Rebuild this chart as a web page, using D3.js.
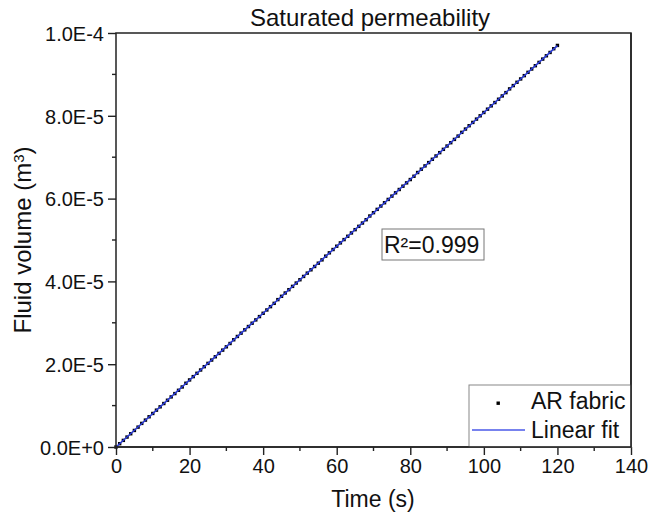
<!DOCTYPE html>
<html><head><meta charset="utf-8">
<script src="https://cdn.jsdelivr.net/npm/d3@7"></script>
<style>body{margin:0;background:#fff}svg{display:block}text{font-family:"Liberation Sans",Arial,sans-serif;fill:#111}</style>
</head><body><svg id="c" width="648" height="519"></svg>
<script>
const timeS = [0,1,2,3,4,5,6,7,8,9,10,11,12,13,14,15,16,17,18,19,20,21,22,23,24,25,26,27,28,29,30,31,32,33,34,35,36,37,38,39,40,41,42,43,44,45,46,47,48,49,50,51,52,53,54,55,56,57,58,59,60,61,62,63,64,65,66,67,68,69,70,71,72,73,74,75,76,77,78,79,80,81,82,83,84,85,86,87,88,89,90,91,92,93,94,95,96,97,98,99,100,101,102,103,104,105,106,107,108,109,110,111,112,113,114,115,116,117,118,119,120];
// fluid volume in 1e-6 m^3
const volumeMicro = [0.0,0.8,1.6,2.4,3.2,4.0,4.8,5.7,6.5,7.3,8.1,8.9,9.7,10.5,11.3,12.1,12.9,13.7,14.5,15.4,16.2,17.0,17.8,18.6,19.4,20.2,21.0,21.8,22.6,23.4,24.2,25.0,25.9,26.7,27.5,28.3,29.1,29.9,30.7,31.5,32.3,33.1,33.9,34.7,35.6,36.4,37.2,38.0,38.8,39.6,40.4,41.2,42.0,42.8,43.6,44.4,45.2,46.1,46.9,47.7,48.5,49.3,50.1,50.9,51.7,52.5,53.3,54.1,54.9,55.8,56.6,57.4,58.2,59.0,59.8,60.6,61.4,62.2,63.0,63.8,64.6,65.4,66.3,67.1,67.9,68.7,69.5,70.3,71.1,71.9,72.7,73.5,74.3,75.1,76.0,76.8,77.6,78.4,79.2,80.0,80.8,81.6,82.4,83.2,84.0,84.8,85.6,86.5,87.3,88.1,88.9,89.7,90.5,91.3,92.1,92.9,93.7,94.5,95.3,96.2,97.0];
const fitSlope = 0.808e-6;   // m^3 per s
const fitIntercept = 0.0;
const fitRange = [0, 120];
const xTicks = [0,20,40,60,80,100,120,140];
const xMinor = [10,30,50,70,90,110,130];
const yTicks = [0,2e-5,4e-5,6e-5,8e-5,1e-4];
const yTickLabels = ["0.0E+0","2.0E-5","4.0E-5","6.0E-5","8.0E-5","1.0E-4"];
const yMinor = [1e-5,3e-5,5e-5,7e-5,9e-5];
const title = "Saturated permeability";
const legendLabels = ["AR fabric","Linear fit"];
const r2Label = "R²=0.999";

const svg = d3.select("#c");
const L=116,R=631,T=33,B=447;
const x = d3.scaleLinear().domain([0,140]).range([L,R]);
const y = d3.scaleLinear().domain([0,1e-4]).range([B,T]);
const axisColor="#222";

// data
const pts = timeS.map((t,i)=>({t, v: volumeMicro[i]*1e-6}));
const gData = svg.append("g");
gData.selectAll("rect").data(pts).enter().append("rect")
  .attr("x",d=>x(d.t)-1.7).attr("y",d=>y(d.v)-1.7).attr("width",3.4).attr("height",3.4).attr("fill","#000");
gData.append("line")
  .attr("x1",x(fitRange[0])).attr("y1",y(fitIntercept+fitSlope*fitRange[0]))
  .attr("x2",x(fitRange[1])).attr("y2",y(fitIntercept+fitSlope*fitRange[1]))
  .attr("stroke","#2b3bd6").attr("stroke-width",1.6);

// axes
const xAxis = d3.axisBottom(x).tickValues(xTicks).tickSize(8).tickSizeOuter(0).tickPadding(4).tickFormat(d3.format("d"));
const gx = svg.append("g").attr("transform",`translate(0,${B})`).call(xAxis);
const yAxis = d3.axisLeft(y).tickValues(yTicks).tickSize(8).tickSizeOuter(0).tickPadding(4).tickFormat((d,i)=>yTickLabels[i]);
const gy = svg.append("g").attr("transform",`translate(${L},0)`).call(yAxis);
[gx,gy].forEach(g=>{
  g.select(".domain").remove();
  g.selectAll(".tick line").attr("stroke",axisColor).attr("stroke-width",1.4);
  g.selectAll(".tick text").style("font-size","20px").attr("fill","#111");
});
gx.selectAll(".tick text").attr("y",26).attr("dy",0);
gy.selectAll(".tick text").attr("x",-12).attr("dy","0.36em");
svg.append("g").selectAll("line").data(xMinor).enter().append("line")
  .attr("x1",d=>x(d)).attr("x2",d=>x(d)).attr("y1",B).attr("y2",B+4).attr("stroke",axisColor).attr("stroke-width",1.4);
svg.append("g").selectAll("line").data(yMinor).enter().append("line")
  .attr("y1",d=>y(d)).attr("y2",d=>y(d)).attr("x1",L).attr("x2",L-4).attr("stroke",axisColor).attr("stroke-width",1.4);

// frame
svg.append("rect").attr("x",L).attr("y",T).attr("width",R-L).attr("height",B-T)
  .attr("fill","none").attr("stroke",axisColor).attr("stroke-width",1.5);

// titles
svg.append("text").attr("x",370).attr("y",26).attr("text-anchor","middle").style("font-size","24px").text(title);
svg.append("text").attr("x",373).attr("y",507).attr("text-anchor","middle").style("font-size","23px").text("Time (s)");
const yt = svg.append("text").attr("transform",`translate(31,${(T+B)/2}) rotate(-90)`).attr("text-anchor","middle").style("font-size","24px");
yt.append("tspan").text("Fluid volume (m");
yt.append("tspan").attr("dy","-0.45em").style("font-size","15px").text("3");
yt.append("tspan").attr("dy","0.3em").text(")");

// R2 box
svg.append("rect").attr("x",382).attr("y",229).attr("width",102).attr("height",31).attr("fill","#fff").attr("stroke","#777").attr("stroke-width",1);
svg.append("text").attr("x",384).attr("y",253).style("font-size","23px").text(r2Label);

// legend
const lg = svg.append("g");
lg.append("rect").attr("x",469).attr("y",385).attr("width",R-469).attr("height",B-385).attr("fill","#fff").attr("stroke","#888").attr("stroke-width",1);
lg.append("rect").attr("x",496.5).attr("y",401.5).attr("width",3.4).attr("height",3.4).attr("fill","#000");
lg.append("line").attr("x1",472).attr("x2",525).attr("y1",430).attr("y2",430).attr("stroke","#4a58e8").attr("stroke-width",1.6);
lg.append("text").attr("x",531).attr("y",409).style("font-size","23px").text(legendLabels[0]);
lg.append("text").attr("x",531).attr("y",438).style("font-size","23px").text(legendLabels[1]);
// redraw frame edges over legend
svg.append("line").attr("x1",R).attr("x2",R).attr("y1",T).attr("y2",B).attr("stroke",axisColor).attr("stroke-width",1.5);
svg.append("line").attr("x1",L).attr("x2",R).attr("y1",B).attr("y2",B).attr("stroke",axisColor).attr("stroke-width",1.5);
</script></body></html>
